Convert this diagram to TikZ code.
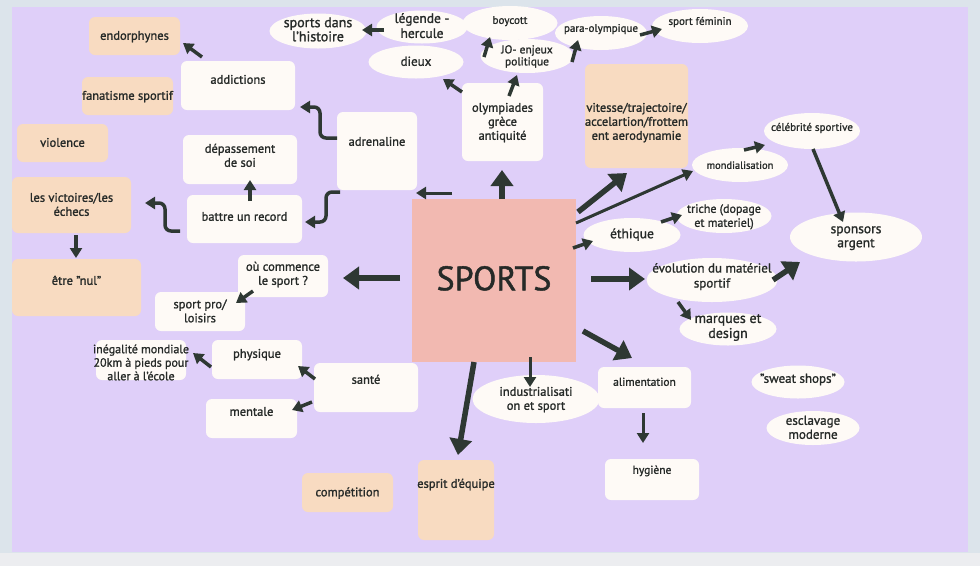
\documentclass[tikz,border=0pt]{standalone}
\usepackage{fontspec}
\setmainfont{PT Sans}[FakeBold=1.3]
\usetikzlibrary{arrows.meta,shapes.geometric,calc}
\definecolor{panel}{HTML}{DFCFF9}
\definecolor{outer}{HTML}{DCE4EB}
\definecolor{lowband}{HTML}{ECEDF0}
\definecolor{wht}{HTML}{FEFAF6}
\definecolor{pch}{HTML}{F8DBC1}
\definecolor{pnk}{HTML}{F2B9B1}
\definecolor{arr}{HTML}{2E3833}
\definecolor{ink}{HTML}{262A28}
\newcommand\Tx[2][0]{\raisebox{\dimexpr #1pt - 4pt\relax}{\makebox[0pt]{\begin{tabular}{@{}c@{}}#2\end{tabular}}}}
\tikzset{
  fs/.style 2 args={font=\fontsize{#1}{#2}\selectfont},
  shp/.style={inner sep=0pt, text height=0pt, text depth=0pt, text=ink, fs={12.5}{14}},
  wbox/.style 2 args={shp, rectangle, rounded corners=6pt, fill=wht, minimum width=#1, minimum height=#2},
  pbox/.style 2 args={shp, rectangle, rounded corners=6pt, fill=pch, minimum width=#1, minimum height=#2},
  ell/.style 2 args={shp, ellipse, fill=wht, minimum width=#1, minimum height=#2},
  bigarr/.style={draw=arr, line width=5.5pt, -{Triangle[length=16pt,width=22pt]}},
  medarr/.style={draw=arr, line width=3pt, -{Triangle[length=10pt,width=12pt]}},
  smarr/.style={draw=arr, line width=3.5pt, -{Triangle[length=10pt,width=12pt]}},
}
\begin{document}
\begin{tikzpicture}[x=1pt,y=-1pt]
\useasboundingbox (0,0) rectangle (980,566);
\fill[outer] (0,0) rectangle (980,566);
\fill[lowband] (0,553) rectangle (980,566);
\fill[panel] (12,7) rectangle (968,552);

% peach boxes
\node[pbox={91}{38}] (endo) at (134.5,36) {\Tx{endorphynes}};
\node[pbox={91}{38}] (fana) at (127.5,96) {\Tx{fanatisme sportif}};
\node[pbox={91}{38}] (viol) at (62.5,143) {\Tx{violence}};
\node[pbox={119}{56}] (vict) at (71.5,205) {\Tx{les victoires/les\\échecs}};
\node[pbox={129}{57}] (nul) at (76.5,287.5) {\Tx[6.5]{être "nul"}};
\node[pbox={91}{39}] (comp) at (347.5,492.5) {\Tx{compétition}};
\node[pbox={76}{80}] (esprit) at (456,500) {\Tx[16]{esprit d'équipe}};
\node[pbox={103}{104}] (vit) at (636.5,116) {\Tx[-6]{vitesse/trajectoire/\\accelartion/frottem\\ent aerodynamie}};

% white boxes
\node[wbox={114}{49}] (addi) at (238,85.5) {\Tx[5.5]{addictions}};
\node[wbox={114}{49}] (depa) at (240,159.5) {\Tx[3.5]{dépassement\\de soi}};
\node[wbox={115}{48}] (rec) at (244.5,219) {\Tx[2]{battre un record}};
\node[wbox={80}{78}] (adre) at (377,151) {\Tx[9]{adrenaline}};
\node[wbox={81}{78}] (olym) at (502.5,122) {\Tx{olympiades\\grèce\\antiquité}};
\node[wbox={90}{42}] (ouc) at (283,276) {\Tx[2]{où commence\\le sport ?}};
\node[wbox={90}{39}] (pro) at (200,311.5) {\Tx{sport pro/\\loisirs}};
\node[wbox={90}{40}, fs={12}{13.5}] (ineg) at (141,360) {\Tx[-3]{inégalité mondiale\\20km à pieds pour\\aller à l'école}};
\node[wbox={90}{39}] (phys) at (257,359.5) {\Tx[5.5]{physique}};
\node[wbox={104}{49}] (sante) at (366,387.5) {\Tx[7.5]{santé}};
\node[wbox={91}{39}] (ment) at (251.5,418.5) {\Tx[6.5]{mentale}};
\node[wbox={93}{41}, fs={11.5}{14}] (alim) at (644.5,387.5) {\Tx[5.5]{alimentation}};
\node[wbox={94}{41}, fs={11.5}{14}] (hyg) at (652,479.5) {\Tx[9.5]{hygiène}};

% central
\node[shp, rectangle, fill=pnk, minimum width=164, minimum height=163, fs={34}{40}] (sports) at (494,280.5) {\Tx[-4]{SPORTS}};

% ellipses
\node[ell={97}{35}, fs={14}{14}] (hist) at (318,31) {\Tx{sports dans\\l'histoire}};
\node[ell={95}{34}, fs={11}{13}] (boy) at (510,23) {\Tx[3]{boycott}};
\node[ell={91}{33}, fs={13.5}{15}] (leg) at (422,27) {\Tx{légende -\\hercule}};
\node[ell={95}{33}, fs={13}{14}] (dieux) at (416,62) {\Tx{dieux}};
\node[ell={93}{34}, fs={11.5}{12}] (jo) at (527,56) {\Tx{JO- enjeux\\politique}};
\node[ell={92}{34}, fs={11}{13}] (para) at (601,33) {\Tx[5]{para-olympique}};
\node[ell={96}{34}, fs={11}{13}] (fem) at (700,26) {\Tx[5]{sport féminin}};
\node[ell={96}{36}, fs={11}{13}] (celeb) at (812,131) {\Tx[4]{célébrité sportive}};
\node[ell={96}{34}, fs={10.5}{13}] (mond) at (740,165) {\Tx{mondialisation}};
\node[ell={95}{34}, fs={12}{14}] (triche) at (724,216) {\Tx{triche (dopage\\et materiel)}};
\node[ell={97}{34}, fs={13.5}{14}] (eth) at (632,235) {\Tx{éthique}};
\node[ell={132}{49}, fs={13.5}{14}] (spons) at (856,237) {\Tx{sponsors\\argent}};
\node[ell={131}{44}, fs={13}{15}] (evol) at (712,280) {\Tx[4]{évolution du matériel\\sportif}};
\node[ell={97}{33}, fs={14}{15}] (marq) at (728,329) {\Tx[2]{marques et\\design}};
\node[ell={93}{33}, fs={13}{14}] (sweat) at (798,382) {\Tx[3]{"sweat shops"}};
\node[ell={93}{34}, fs={13}{14}] (escl) at (813,428) {\Tx{esclavage\\moderne}};
\node[ell={127}{48}] (indus) at (536,399) {\Tx{industrialisati\\on et sport}};

% connectors
\draw[smarr] ($(addi)+(-36,-28.5)$) -- ($(endo)+(48.5,7)$);
\draw[smarr, rounded corners=6pt] ($(adre)+(-40,-13)$) -- ++(-17,0) |- ($(addi)+(62,21.5)$);
\draw[medarr] ($(sports)+(-42,-87.5)$) -- ($(adre)+(39,42)$);
\draw[bigarr] ($(sports)+(8,-81.5)$) -- ($(olym)+(-0.5,48)$);
\draw[smarr] ($(olym)+(-40.5,-30)$) -- ($(dieux)+(27,17)$);
\draw[smarr] ($(olym)+(6.5,-26)$) -- ($(jo)+(-10,19)$);
\draw[smarr] ($(jo)+(-43,1)$) -- ($(boy)+(-20,14)$);
\draw[smarr] ($(jo)+(45,6)$) -- ($(para)+(-23,7)$);
\draw[smarr] ($(para)+(39,2)$) -- ($(fem)+(-38,3)$);
\draw[smarr] ($(leg)+(-38,3)$) -- ($(hist)+(44,-1)$);
\draw[bigarr] ($(sports)+(84,-68.5)$) -- ($(vit)+(-9.5,57)$);
\draw[medarr] ($(sports)+(82,-57.5)$) -- ($(mond)+(-47,6)$);
\draw[smarr] ($(mond)+(4,-15)$) -- ($(celeb)+(-47,14)$);
\draw[smarr] ($(celeb)+(1,18)$) -- ($(spons)+(-13,-15)$);
\draw[smarr] ($(sports)+(79,-32.5)$) -- ($(eth)+(-39,6)$);
\draw[smarr] ($(eth)+(29,-13)$) -- ($(triche)+(-42,-1)$);
\draw[bigarr] ($(sports)+(97,-1.5)$) -- ($(evol)+(-67,-1)$);
\draw[bigarr] ($(evol)+(61,0)$) -- ($(spons)+(-56,25)$);
\draw[smarr] ($(evol)+(-34,22)$) -- ($(marq)+(-37,-9)$);
\draw[bigarr] ($(sports)+(89,50.5)$) -- ($(alim)+(-12.5,-29.5)$);
\draw[medarr] ($(sports)+(36,76.5)$) -- ($(indus)+(-6,-12)$);
\draw[bigarr] ($(sports)+(-20,81.5)$) -- ($(esprit)+(2,-45)$);
\draw[medarr] ($(alim)+(-1.5,25.5)$) -- ($(hyg)+(-9,-36.5)$);
\draw[bigarr] ($(sports)+(-94,-2.5)$) -- ($(ouc)+(60,2)$);
\draw[smarr] ($(ouc)+(-30,15)$) -- ($(pro)+(36,-8.5)$);
\draw[smarr] ($(sante)+(-51,-8.5)$) -- ($(phys)+(41,6.5)$);
\draw[smarr] ($(sante)+(-54,14.5)$) -- ($(ment)+(40.5,-8.5)$);
\draw[smarr] ($(phys)+(-46,7.5)$) -- ($(ineg)+(52,-7)$);
\draw[smarr, rounded corners=6pt] ($(adre)+(-37,41)$) -- ++(-14,0) |- ($(rec)+(60.5,3)$);
\draw[smarr, rounded corners=6pt] ($(rec)+(-64.5,12)$) -- ++(-15,0) |- ($(vict)+(73.5,-2)$);
\draw[smarr] ($(rec)+(5.5,-18)$) -- ($(depa)+(10,20.5)$);
\draw[smarr] ($(vict)+(4.5,30)$) -- ($(nul)+(-0.5,-29.5)$);
\end{tikzpicture}
\end{document}
